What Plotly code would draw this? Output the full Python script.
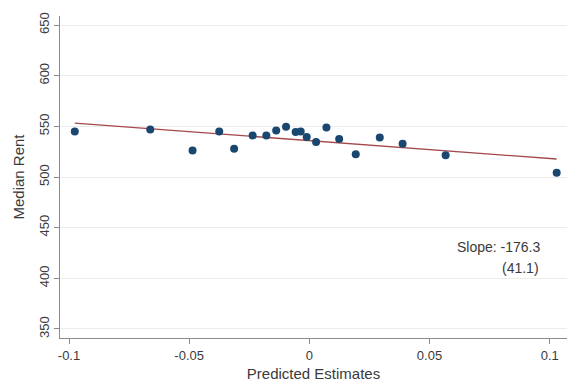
import plotly.graph_objects as go

# Binned scatter: predicted estimates vs. median rent
pred_est = [-0.0976, -0.0662, -0.0486, -0.0375, -0.0313, -0.0236, -0.0179,
            -0.0138, -0.0097, -0.0057, -0.0036, -0.0011, 0.0028, 0.0071,
            0.0124, 0.0193, 0.0293, 0.0388, 0.0567, 0.1029]
median_rent = [544.8, 546.8, 526.1, 544.8, 528.0, 540.9, 540.9, 545.8, 549.7,
               544.5, 544.8, 539.6, 534.6, 548.8, 537.6, 522.5, 538.9, 532.7,
               521.5, 504.1]

# Linear fit
slope = -176.3
slope_se = 41.1
intercept = 535.9

y_ticks = [350, 400, 450, 500, 550, 600, 650]
x_ticks = [-0.1, -0.05, 0, 0.05, 0.1]
x_tick_labels = ["-0.1", "-0.05", "0", "0.05", "0.1"]

fit_x = [min(pred_est), max(pred_est)]
fit_y = [intercept + slope * x for x in fit_x]

font = dict(family="Liberation Sans, Arial, sans-serif", size=12.5, color="#3a3a3a")

fig = go.Figure()
fig.add_trace(go.Scatter(
    x=fit_x, y=fit_y, mode="lines",
    line=dict(color="#a4484c", width=1.3),
    hoverinfo="skip", showlegend=False,
))
fig.add_trace(go.Scatter(
    x=pred_est, y=median_rent, mode="markers",
    marker=dict(color="#1a476f", size=8),
    showlegend=False,
))

# Slope estimate and its standard error
fig.add_annotation(
    x=0.0966, y=431.4, xanchor="right", yanchor="middle",
    text=f"Slope: {slope:.1f}", showarrow=False,
    font=dict(family=font["family"], size=14, color="#3a3a3a"),
)
fig.add_annotation(
    x=0.0964, y=410.1, xanchor="right", yanchor="middle",
    text=f"({slope_se:.1f})", showarrow=False,
    font=dict(family=font["family"], size=14, color="#3a3a3a"),
)

fig.update_layout(
    width=568, height=387,
    margin=dict(l=60, r=1, t=16, b=49),
    paper_bgcolor="white", plot_bgcolor="white",
    font=font,
    xaxis=dict(
        range=[-0.10375, 0.1072],
        tickvals=x_ticks, ticktext=x_tick_labels,
        tickfont=dict(size=13),
        showgrid=False, zeroline=False,
        showline=True, linecolor="#8a8a8a", linewidth=1.2,
        ticks="outside", ticklen=5, tickcolor="#8a8a8a",
        title=dict(text="Predicted Estimates", standoff=6),
    ),
    yaxis=dict(
        range=[341.1, 658.9],
        tickvals=y_ticks, tickangle=-90,
        tickfont=dict(size=13),
        showgrid=True, gridcolor="#ececec", gridwidth=1,
        zeroline=False,
        showline=True, linecolor="#8a8a8a", linewidth=1.2,
        ticks="outside", ticklen=5, tickcolor="#8a8a8a",
        title=dict(text="Median Rent", standoff=8),
    ),
)

fig.write_html("out.html")
